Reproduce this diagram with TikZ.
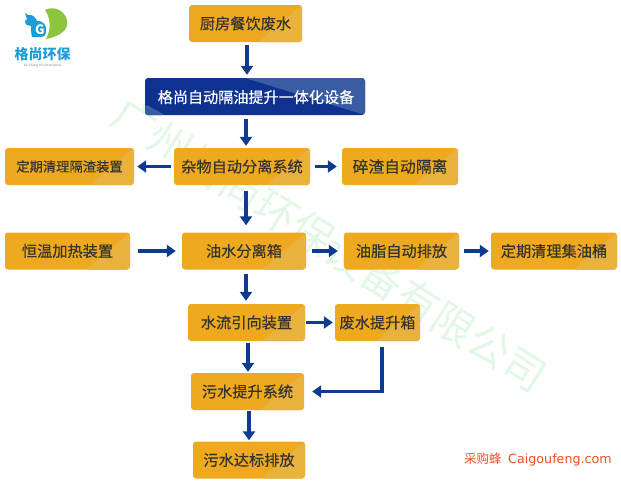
\documentclass[tikz,border=0pt]{standalone}
\usepackage{fontspec}
\usetikzlibrary{arrows.meta}
\newfontfamily\cjk[FakeBold=0.35]{Noto Sans CJK SC}
\newfontfamily\cjkplain{Noto Sans CJK SC}
\newfontfamily\latn{DejaVu Sans}
\definecolor{boxorange}{HTML}{EEA91F}
\definecolor{boxlight}{HTML}{E9B23F}
\definecolor{boxblue}{HTML}{0F3290}
\definecolor{bluelight}{HTML}{3A5CA2}
\definecolor{boxtext}{HTML}{34332E}
\definecolor{flowblue}{HTML}{0E3A90}
\definecolor{marktext}{HTML}{E3F7E7}
\definecolor{logoblue}{HTML}{1E9CD8}
\definecolor{logogreen}{HTML}{8CC63F}
\definecolor{siteorange}{HTML}{F2501E}
\tikzset{ b/.style = { rectangle
                       , rounded corners = 3pt
                       , fill         = boxorange
                       , text         = boxtext
                       , font         = \cjk\fontsize{15.2}{18}\selectfont
                       , inner sep    = 0pt
                       , minimum height = 37pt
                       , path picture = {
                           \fill[boxlight] (path picture bounding box.north east)
                             -- (path picture bounding box.south east)
                             -- ([xshift=-44pt]path picture bounding box.south east) -- cycle;
                         }
                       },
            h/.style = { rectangle
            , rounded corners = 3pt
            , fill = boxblue
            , text = white
            , font = \cjk\fontsize{15.1}{18}\selectfont
            , inner sep    = 0pt
            , minimum height = 37pt
            , path picture = {
                \fill[bluelight] ([xshift=-120pt]path picture bounding box.north east)
                  -- (path picture bounding box.north east)
                  -- (path picture bounding box.south east) -- cycle;
                \fill[bluelight] ([yshift=11pt]path picture bounding box.south west)
                  -- (path picture bounding box.south west)
                  -- ([xshift=20pt]path picture bounding box.south west) -- cycle;
              }
            },
            flow/.style = { draw = flowblue
            , line width = 3.8pt
            , -{Triangle[length=9pt,width=12pt]}
            , shorten <=3pt
            , shorten >=3pt
            }
          }

\begin{document}
\begin{tikzpicture}[x=1pt,y=-1pt]
            \useasboundingbox (0,0) rectangle (621,485);
            % watermark
            \node[rotate=-32.5, text=marktext, font=\cjkplain\fontsize{42}{50}\selectfont, inner sep=0pt]
                (mark) at (330,245) {广州格尚环保设备有限公司};
            % logo
            \fill[logogreen] (45,10) .. controls (52,6) and (62,9) .. (66,17)
                .. controls (71,28) and (62,36) .. (46,39)
                .. controls (50,32) and (52,20) .. (45,10);
            \fill[logoblue] (25,13) -- (28,15) .. controls (33,14) and (36,18) .. (37,21)
                .. controls (43,20) and (47,26) .. (46,31)
                .. controls (46,35) and (44,37) .. (42,37) -- (32,37)
                .. controls (31,33) and (31,29) .. (31,26)
                .. controls (28,26) and (25,25) .. (25,21) -- (27,19) -- cycle;
            \node[text=white, font=\cjkplain\bfseries\fontsize{13}{13}\selectfont, inner sep=0pt] (logog) at (40,30) {G};
            \node[text=logoblue, font=\cjkplain\bfseries\fontsize{14}{14}\selectfont, inner sep=0pt] (logoname) at (42.5,54) {格尚环保};
            \node[text=gray, font=\latn\fontsize{3}{3}\selectfont, inner sep=0pt] (logosub) at (42.5,66) {Ge Shang Environmental};
            % boxes
            \node[b, minimum width=113pt] (s1) at (245.5,23.5) {厨房餐饮废水};
            \node[h, minimum width=220pt, text depth=0pt] (s2) at (255,96.5) {\hspace{2pt}格尚自动隔油提升一体化设备};
            \node[b, minimum width=136pt] (s3) at (242,166.5) {杂物自动分离系统};
            \node[b, minimum width=129pt, font=\cjk\fontsize{13.3}{18}\selectfont] (l3) at (69.5,166.5) {定期清理隔渣装置};
            \node[b, minimum width=116pt, font=\cjk\fontsize{15.8}{18}\selectfont] (r3) at (400,166.5) {碎渣自动隔离};
            \node[b, minimum width=125pt] (l4) at (67.5,251) {恒温加热装置};
            \node[b, minimum width=124pt] (s4) at (244,251) {油水分离箱};
            \node[b, minimum width=115pt] (r4) at (401.5,251) {油脂自动排放};
            \node[b, minimum width=126pt] (e4) at (554,251) {定期清理集油桶};
            \node[b, minimum width=117pt] (s5) at (246.5,322.5) {水流引向装置};
            \node[b, minimum width=85pt] (r5) at (377.5,322.5) {废水提升箱};
            \node[b, minimum width=113pt] (s6) at (247.5,391.5) {污水提升系统};
            \node[b, minimum width=112pt] (s7) at (249,460) {污水达标排放};
            % arrows
            \draw[flow] ([xshift=1.5pt]s1.south) -- ([xshift=1.5pt]s1.south |- s2.north);
            \draw[flow, shorten <=4pt, shorten >=2pt] ([xshift=-9pt]s2.south) -- ([xshift=-9pt]s2.south |- s3.north);
            \draw[flow] (s3.west) -- (l3.east);
            \draw[flow, shorten <=5pt, shorten >=5pt] (s3.east) -- (r3.west);
            \draw[flow, shorten <=6pt, shorten >=7pt] ([xshift=4pt]s3.south) -- ([xshift=4pt]s3.south |- s4.north);
            \draw[flow, shorten <=8pt, shorten >=6pt] (l4.east) -- (s4.west);
            \draw[flow, shorten <=6pt, shorten >=6pt] (s4.east) -- (r4.west);
            \draw[flow, shorten <=5pt, shorten >=2pt] (r4.east) -- (e4.west);
            \draw[flow, shorten <=4pt] ([xshift=2pt]s4.south) -- ([xshift=2pt]s4.south |- s5.north);
            \draw[flow, shorten <=1pt, shorten >=2pt] (s5.east) -- (r5.west);
            \draw[flow, shorten <=2pt, shorten >=1pt] ([xshift=1.5pt]s5.south) -- ([xshift=1.5pt]s5.south |- s6.north);
            \draw[flow, shorten <=1pt, shorten >=1pt] ([xshift=1.5pt]s6.south) -- ([xshift=1.5pt]s6.south |- s7.north);
            \draw[flow, shorten <=6pt, shorten >=8pt] ([xshift=4.5pt]r5.south) |- (s6.east);
            % site mark
            \node[anchor=west, text=siteorange, inner sep=0pt, font=\cjkplain\fontsize{12.5}{14}\selectfont]
                (site) at (464,460) {采购蜂\hspace{6.5pt}{\latn\fontsize{12.7}{14}\selectfont Caigoufeng.com}};
\end{tikzpicture}
\end{document}
